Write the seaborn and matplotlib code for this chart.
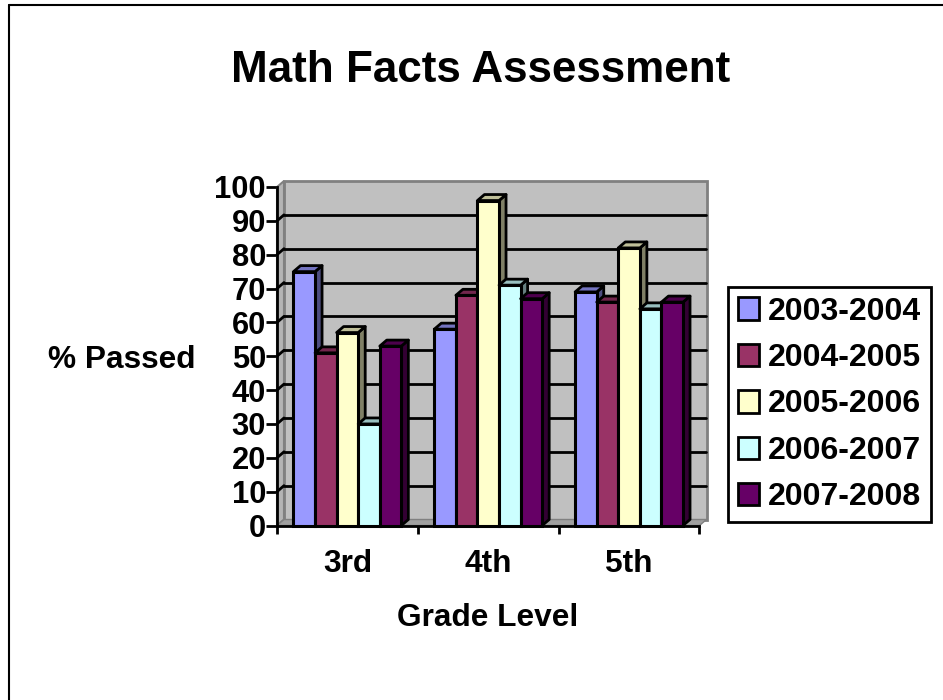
import pandas as pd
import matplotlib.pyplot as plt
import seaborn as sns
from matplotlib.colors import to_rgb
from matplotlib.lines import Line2D
from matplotlib.patches import Polygon, Rectangle
from matplotlib.transforms import Affine2D

grades = ["3rd", "4th", "5th"]
years = ["2003-2004", "2004-2005", "2005-2006", "2006-2007", "2007-2008"]
passed_2003 = [75, 58, 69]
passed_2004 = [51, 68, 66]
passed_2005 = [57, 96, 82]
passed_2006 = [30, 71, 64]
passed_2007 = [53, 67, 66]
colors = ["#9999FF", "#993366", "#FFFFCC", "#CCFFFF", "#660066"]
y_ticks = list(range(0, 101, 10))

rows = []
for year, vals in zip(years, [passed_2003, passed_2004, passed_2005, passed_2006, passed_2007]):
    for grade, v in zip(grades, vals):
        rows.append({"Grade": grade, "Year": year, "Passed": v})
data = pd.DataFrame(rows)

W, H = 943, 700
sns.set_style("white")
plt.rcParams["font.family"] = ["Liberation Sans", "DejaVu Sans"]
plt.rcParams["font.weight"] = "bold"
plt.rcParams["text.color"] = "black"
plt.rcParams["xtick.color"] = "black"
plt.rcParams["ytick.color"] = "black"

fig = plt.figure(figsize=(W / 100, H / 100), dpi=100)
# front plane of the fake 3d box, in pixels
left, right, bottom, top = 277, 699.5, 525.5, 187
ax = fig.add_axes([left / W, 1 - bottom / H, (right - left) / W, (bottom - top) / H])
ax.patch.set_visible(False)

sns.barplot(data=data, x="Grade", y="Passed", hue="Year", order=grades, hue_order=years,
            palette=colors, width=0.766, saturation=1, edgecolor="black", linewidth=2.2,
            gap=0, ax=ax, zorder=5)
ax.set_xlim(-0.5, 2.5)
ax.set_ylim(0, 100)

# depth of the box and the bars, pixels
dx, dy = 7, 6
ox = dx / ((right - left) / 3)
oy = dy / ((bottom - top) / 100)
shift = ax.transData + Affine2D().translate(dx, dy)
wall = ax.transAxes + Affine2D().translate(dx, dy)

ax.add_patch(Rectangle((0, 0), 1, 1, transform=wall, fc="#C0C0C0", ec="#808080", lw=2, zorder=1, clip_on=False))
# side wall and floor
ax.add_patch(Polygon([(-0.5, 0), (-0.5, 100), (-0.5 + ox, 100 + oy), (-0.5 + ox, oy)],
                     fc="#B4B4B4", ec="#808080", lw=1.5, zorder=1.5, clip_on=False))
ax.add_patch(Polygon([(-0.5, 0), (2.5, 0), (2.5 + ox, oy), (-0.5 + ox, oy)],
                     fc="#A0A0A0", ec="#808080", lw=1, zorder=1.5, clip_on=False))
for t in y_ticks[1:-1]:
    ax.plot([-0.5, 2.5], [t, t], transform=shift, color="black", lw=2, zorder=2, clip_on=False)
    ax.plot([-0.5, -0.5 + ox], [t, t + oy], color="black", lw=2, zorder=2, clip_on=False)

# side and top faces for each bar, drawn from the bars seaborn made
for i, container in enumerate(ax.containers):
    base = to_rgb(colors[i])
    side = tuple(c * 0.5 for c in base)
    roof = tuple(c * 0.75 for c in base)
    for bar in container:
        x0, x1 = bar.get_x(), bar.get_x() + bar.get_width()
        h = bar.get_height()
        z = 3 + i + 0.1 * x0
        bar.set_zorder(z + 0.02)
        bar.set_clip_on(False)
        ax.add_patch(Polygon([(x1, 0), (x1, h), (x1 + ox, h + oy), (x1 + ox, oy)], fc=side, ec="black",
                             lw=2, zorder=z, clip_on=False, joinstyle="round"))
        ax.add_patch(Polygon([(x0, h), (x1, h), (x1 + ox, h + oy), (x0 + ox, h + oy)], fc=roof, ec="black",
                             lw=2, zorder=z + 0.01, clip_on=False, joinstyle="round"))

sns.despine(ax=ax, top=True, right=True)
for s in ["left", "bottom"]:
    ax.spines[s].set_linewidth(2)
    ax.spines[s].set_color("black")
    ax.spines[s].set_zorder(20)
ax.set_yticks(y_ticks)
ax.set_xticks([-0.5, 0.5, 1.5, 2.5], minor=True)
ax.set_xticks([0, 1, 2], labels=grades)
ax.tick_params(axis="x", which="minor", length=6, width=2, color="black", bottom=True)
ax.tick_params(axis="x", which="major", length=0, labelsize=22.8, pad=17)
ax.tick_params(axis="y", length=8, width=2, color="black", left=True, labelsize=22.2, pad=0)
ax.set_xlabel("")
ax.set_ylabel("")

fig.text(481 / W, 1 - 70 / H, "Math Facts Assessment", ha="center", va="center", fontsize=31.7, fontweight="bold")
fig.text(488 / W, 1 - 618 / H, "Grade Level", ha="center", va="center", fontsize=22.8, fontweight="bold")
fig.text(121.5 / W, 1 - 360 / H, "% Passed", ha="center", va="center", fontsize=22.8, fontweight="bold")

handles, labels = ax.get_legend_handles_labels()
if ax.legend_:
    ax.legend_.remove()
leg = fig.legend(handles, labels, loc="center left", bbox_to_anchor=(728 / W, 1 - 404.5 / H), frameon=True,
                 fontsize=23, handlelength=0.66, handleheight=0.7, handletextpad=0.3, labelspacing=0.515,
                 borderpad=0.3, borderaxespad=0, fancybox=False, edgecolor="black", framealpha=1)
leg.get_frame().set_linewidth(2)
for h in leg.legend_handles:
    h.set_edgecolor("black")
    h.set_linewidth(2)

# page border, only top and left
fig.add_artist(Line2D([9 / W, 1], [1 - 5 / H, 1 - 5 / H], transform=fig.transFigure, color="black", lw=1.5))
fig.add_artist(Line2D([9 / W, 9 / W], [0, 1 - 5 / H], transform=fig.transFigure, color="black", lw=1.5))

fig.savefig("out.png", dpi=100)
